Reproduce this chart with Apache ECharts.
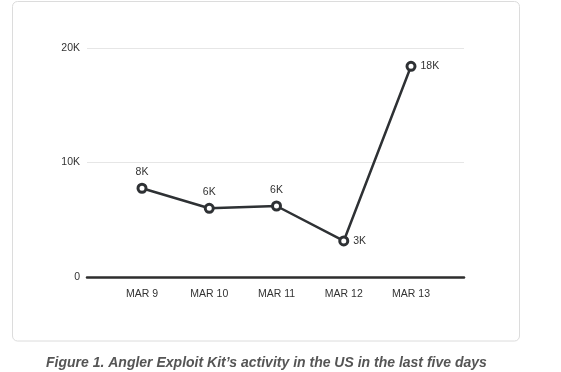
<!DOCTYPE html>
<html>
<head>
<meta charset="utf-8">
<script src="https://cdn.jsdelivr.net/npm/echarts@6/dist/echarts.min.js"></script>
<style>
html,body{margin:0;padding:0;background:#fff;}
#c{width:561px;height:372px;}
</style>
</head>
<body>
<div id="c"></div>
<script>
var categories = ['MAR 9', 'MAR 10', 'MAR 11', 'MAR 12', 'MAR 13'];
var values = [7750, 6000, 6200, 3150, 18400];
var pointLabels = ['8K', '6K', '6K', '3K', '18K'];
var yTicks = [0, 10000, 20000];
var yTickLabels = ['0', '10K', '20K'];
var caption = 'Figure 1. Angler Exploit Kit\u2019s activity in the US in the last five days';

var chart = echarts.init(document.getElementById('c'), null, {renderer: 'canvas'});
var font = '"Liberation Sans", Arial, Helvetica, sans-serif';
var yMax = yTicks[yTicks.length - 1];
var yStep = yTicks[1] - yTicks[0];

chart.setOption({
  animation: false,
  backgroundColor: '#fff',
  title: {
    text: caption,
    left: 41,
    top: 351,
    textStyle: {fontFamily: font, fontSize: 14, fontWeight: 'bold', fontStyle: 'italic', color: '#555'}
  },
  graphic: [{
    type: 'rect',
    shape: {x: 12.5, y: 1.5, width: 507, height: 339.5, r: 5},
    style: {fill: 'none', stroke: '#dcdcdc', lineWidth: 1},
    z: -10
  }],
  grid: [
    {left: 87, right: 97, top: 48, bottom: 95},
    {left: 142, right: 150, top: 48, bottom: 95}
  ],
  xAxis: [
    {
      gridIndex: 0, type: 'value', min: 0, max: 1,
      axisLine: {show: true, lineStyle: {color: '#2e2e2e', width: 2.5}},
      axisTick: {show: false}, axisLabel: {show: false}, splitLine: {show: false}
    },
    {
      gridIndex: 1, type: 'category', data: categories, boundaryGap: false,
      axisLine: {show: false}, axisTick: {show: false}, splitLine: {show: false},
      axisLabel: {fontFamily: font, fontSize: 10.5, color: '#333', margin: 12}
    }
  ],
  yAxis: [
    {
      gridIndex: 0, type: 'value', min: 0, max: yMax, interval: yStep,
      axisLine: {show: false}, axisTick: {show: false},
      splitLine: {show: true, lineStyle: {color: '#e6e6e6', width: 1}},
      axisLabel: {
        fontFamily: font, fontSize: 10.5, color: '#333', margin: 7,
        formatter: function (v) { var i = yTicks.indexOf(v); return i >= 0 ? yTickLabels[i] : ''; }
      }
    },
    {
      gridIndex: 1, type: 'value', min: 0, max: yMax, show: false
    }
  ],
  series: [{
    type: 'line',
    xAxisIndex: 1, yAxisIndex: 1,
    data: values.map(function (v, i) {
      return {
        value: v,
        label: {position: i >= 3 ? 'right' : 'top', distance: i >= 3 ? 4 : 5}
      };
    }),
    symbol: 'circle',
    symbolSize: 8,
    lineStyle: {color: '#2e3134', width: 2.5},
    itemStyle: {color: '#fff', borderColor: '#2e3134', borderWidth: 3},
    label: {
      show: true,
      fontFamily: font, fontSize: 10.5, color: '#333',
      formatter: function (p) { return pointLabels[p.dataIndex]; }
    },
    z: 5
  }]
});
</script>
</body>
</html>
